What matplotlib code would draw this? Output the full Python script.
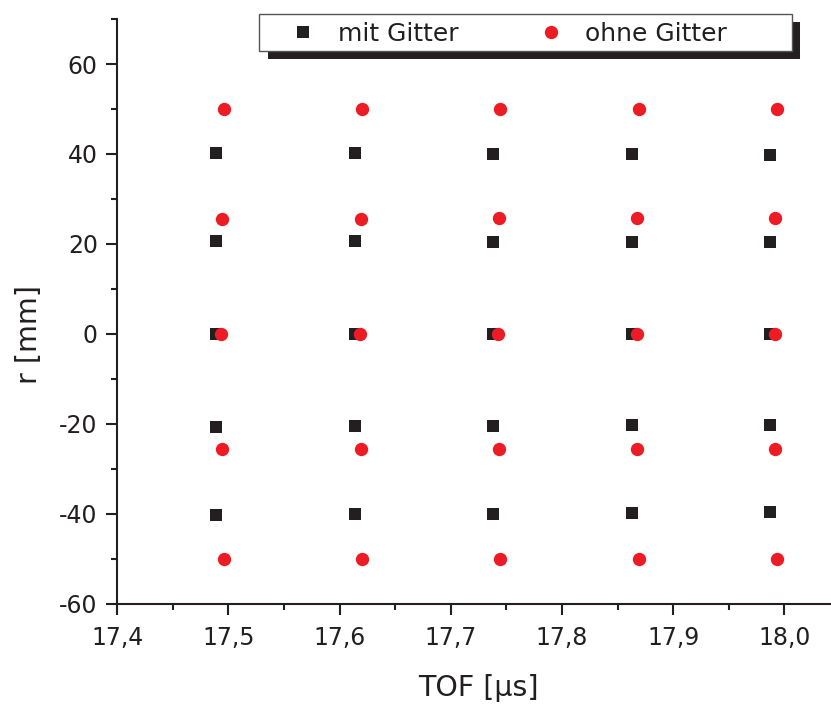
import matplotlib
matplotlib.use('Agg')
import matplotlib.pyplot as plt
from matplotlib.patches import Rectangle
from matplotlib.ticker import MultipleLocator, FixedLocator

# mit Gitter (black squares)
tof_mit = [17.489, 17.489, 17.489, 17.489, 17.489,
           17.614, 17.614, 17.614, 17.614, 17.614,
           17.738, 17.738, 17.738, 17.738, 17.738,
           17.863, 17.863, 17.863, 17.863, 17.863,
           17.987, 17.987, 17.987, 17.987, 17.987]
r_mit = [40.3, 20.7, 0.0, -20.7, -40.4,
         40.2, 20.6, 0.0, -20.6, -40.2,
         40.0, 20.5, 0.0, -20.55, -40.0,
         39.9, 20.5, 0.0, -20.4, -39.8,
         39.7, 20.5, 0.0, -20.4, -39.6]

# ohne Gitter (red circles)
tof_ohne = [17.4957, 17.4945, 17.4936, 17.4945, 17.4957,
            17.6204, 17.6190, 17.6180, 17.6190, 17.6204,
            17.7445, 17.7431, 17.7425, 17.7431, 17.7445,
            17.8690, 17.8675, 17.8672, 17.8675, 17.8690,
            17.9934, 17.9919, 17.9914, 17.9919, 17.9934]
r_ohne = [50.0, 25.6, 0.0, -25.6, -50.0,
          50.0, 25.6, 0.0, -25.6, -50.0,
          50.0, 25.7, 0.0, -25.6, -50.0,
          50.0, 25.8, 0.0, -25.7, -50.0,
          50.0, 25.8, 0.0, -25.7, -50.0]

xticks = [17.4, 17.5, 17.6, 17.7, 17.8, 17.9, 18.0]
xtick_labels = ['17,4', '17,5', '17,6', '17,7', '17,8', '17,9', '18,0']
yticks = [-60, -40, -20, 0, 20, 40, 60]
ytick_labels = ['-60', '-40', '-20', '0', '20', '40', '60']

black = '#231f20'
red = '#ed1c24'

plt.rcParams['font.family'] = ['DejaVu Sans']
plt.rcParams['text.color'] = black
plt.rcParams['axes.labelcolor'] = black
plt.rcParams['xtick.color'] = black
plt.rcParams['ytick.color'] = black

W, H = 831, 705
fig = plt.figure(figsize=(W / 100, H / 100), dpi=100)
ax = fig.add_axes([117.3 / W, 1 - 603.5 / H, 1 - 117.3 / W, (603.5 - 19.1) / H])

ax.plot(tof_mit, r_mit, 's', color=black, markersize=8.4, markeredgewidth=0,
        label='mit Gitter', clip_on=False, zorder=3)
ax.plot(tof_ohne, r_ohne, 'o', color=red, markersize=9.6, markeredgewidth=0,
        label='ohne Gitter', clip_on=False, zorder=4)

ax.set_xlim(17.4, 18.042)
ax.set_ylim(-60, 70)

ax.xaxis.set_major_locator(FixedLocator(xticks))
ax.set_xticklabels(xtick_labels)
ax.xaxis.set_minor_locator(MultipleLocator(0.05))
ax.yaxis.set_major_locator(FixedLocator(yticks))
ax.set_yticklabels(ytick_labels)
ax.yaxis.set_minor_locator(MultipleLocator(10))

for side in ['top', 'right']:
    ax.spines[side].set_visible(False)
for side in ['left', 'bottom']:
    ax.spines[side].set_linewidth(1.5)
    ax.spines[side].set_color(black)

ax.tick_params(which='major', direction='out', length=8, width=1.5, labelsize=17, pad=6)
ax.tick_params(axis='x', which='major', pad=8)
ax.tick_params(which='minor', direction='out', length=4.5, width=1.5)

ax.set_xlabel('TOF [µs]', fontsize=20.5, va='center')
ax.xaxis.set_label_coords(0.506, -0.1447)
ax.set_ylabel('r [mm]', fontsize=20.5, va='center')
ax.yaxis.set_label_coords(-0.1237, 0.4606)

# legend box with offset black shadow
fig.add_artist(Rectangle((267.8 / W, 1 - 59.3 / H), (800.2 - 267.8) / W, (59.3 - 22.5) / H,
                         transform=fig.transFigure, facecolor=black, edgecolor='none', zorder=2))
fig.add_artist(Rectangle((259.3 / W, 1 - 50.5 / H), (791.6 - 259.3) / W, (50.5 - 13.5) / H,
                         transform=fig.transFigure, facecolor='white', edgecolor='#555555',
                         linewidth=1.0, zorder=3))
handles, labels = ax.get_legend_handles_labels()
fig.legend(handles, labels, loc='center left', bbox_to_anchor=(290.5 / W, 1 - 34 / H),
           bbox_transform=fig.transFigure, frameon=False, borderpad=0, borderaxespad=0,
           ncol=2, handlelength=1.0, handletextpad=0.88, columnspacing=3.2,
           fontsize=18, numpoints=1)

fig.savefig('out.png', dpi=100)
